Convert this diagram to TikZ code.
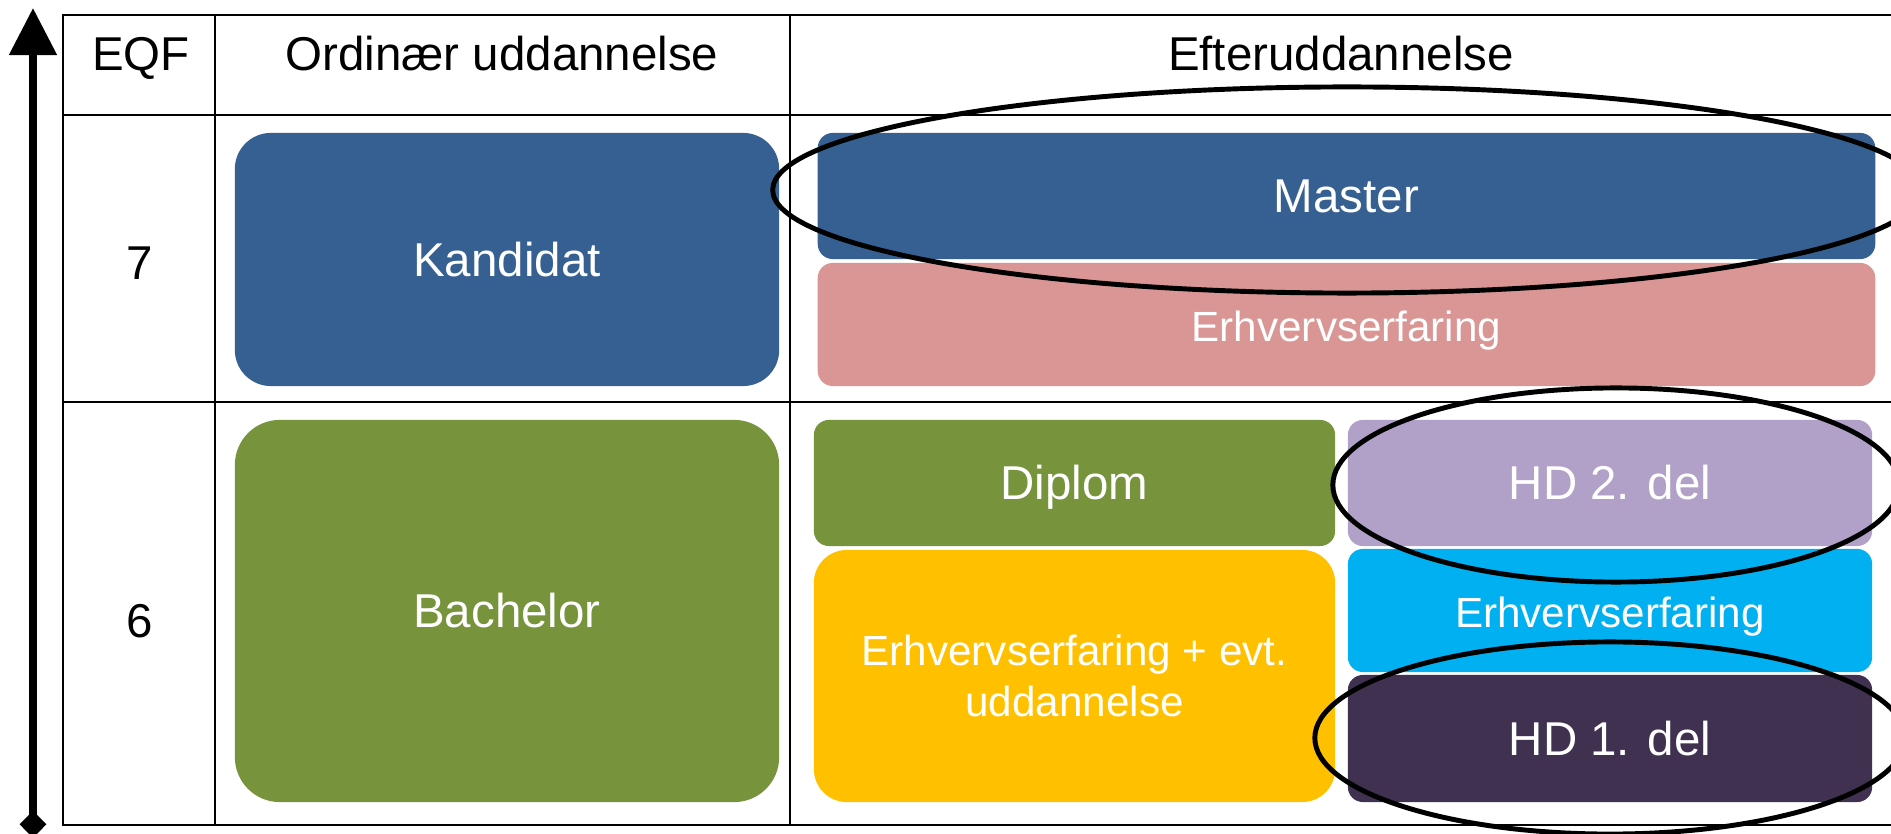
\documentclass[tikz,border=0pt]{standalone}
\usepackage{fontspec}
\setmainfont{Liberation Sans}
\usetikzlibrary{arrows.meta}

\definecolor{blaa}{HTML}{366092}
\definecolor{rosa}{HTML}{DA9694}
\definecolor{groen}{HTML}{77933C}
\definecolor{gul}{HTML}{FFC000}
\definecolor{lilla}{HTML}{B1A0C7}
\definecolor{turkis}{HTML}{00B0F0}
\definecolor{moerk}{HTML}{403151}

\newcommand{\stor}{\fontsize{13.5}{16}\selectfont}
\newcommand{\lille}{\fontsize{12}{14.5}\selectfont}

\begin{document}
\begin{tikzpicture}[x=0.01cm, y=-0.01cm,
 kasse/.style={fill=#1, text=white, inner sep=0pt, font=\stor, rounded corners=0.15cm},
 felt/.style={kasse=#1, text height=9.4pt, text depth=0pt},
 ring/.style={line width=1.4pt},
 gitter/.style={line width=0.75pt}]
 \useasboundingbox (0,0) rectangle (1891,834);
 % tabel
 \draw[gitter] (63,15) rectangle (1950,825);
 \draw[gitter] (215,15) -- (215,825) (790,15) -- (790,825);
 \draw[gitter] (63,115) -- (1950,115) (63,402) -- (1950,402);
 % overskrifter
 \node[anchor=base, font=\stor] (eqf) at (141,71) {EQF};
 \node[anchor=base, font=\stor] (ordinaer) at (502,71) {Ordinær uddannelse};
 \node[anchor=base, font=\stor] (efter) at (1341,71) {Efteruddannelse};
 \node[anchor=base, font=\stor] (niv7) at (140,280) {7};
 \node[anchor=base, font=\stor] (niv6) at (140,638) {6};
 % kasser, niveau 7
 \node[felt=blaa, minimum width=5.44cm, minimum height=2.53cm, rounded corners=0.36cm] (kandidat) at (507,259.5) {Kandidat};
 \node[felt=blaa, minimum width=10.57cm, minimum height=1.26cm] (master) at (1346.5,196) {Master};
 \node[felt=rosa, font=\lille, minimum width=10.57cm, minimum height=1.23cm] (erhv7) at (1346.5,324.5) {Erhvervserfaring};
 % kasser, niveau 6
 \node[felt=groen, minimum width=5.44cm, minimum height=3.82cm, rounded corners=0.45cm] (bachelor) at (507,611) {Bachelor};
 \node[felt=groen, minimum width=5.21cm, minimum height=1.26cm] (diplom) at (1074.5,483) {Diplom};
 \node[kasse=gul, font=\lille, align=center, minimum width=5.21cm, minimum height=2.52cm, rounded corners=0.33cm] (erhvudd) at (1074.5,676) {Erhvervserfaring + evt.\\uddannelse};
 \node[felt=lilla, minimum width=5.24cm, minimum height=1.26cm] (hd2) at (1610,483) {HD 2. del};
 \node[felt=turkis, font=\lille, minimum width=5.24cm, minimum height=1.23cm] (erhv6) at (1610,610.5) {Erhvervserfaring};
 \node[felt=moerk, minimum width=5.24cm, minimum height=1.27cm] (hd1) at (1610,738.5) {HD 1. del};
 % ringe
 \draw[ring] (1347,190) ellipse [x radius=5.74cm, y radius=1.03cm];
 \draw[ring] (1616,485) ellipse [x radius=2.83cm, y radius=0.97cm];
 \draw[ring] (1610,738) ellipse [x radius=2.95cm, y radius=0.96cm];
 % pil
 \coordinate (bund) at (33,838);
 \coordinate (top) at (33,8);
 \draw[line width=0.08cm, {Diamond[width=0.27cm,length=0.27cm]}-{Triangle[width=0.46cm,length=0.47cm]}] (bund) -- (top);
\end{tikzpicture}
\end{document}
